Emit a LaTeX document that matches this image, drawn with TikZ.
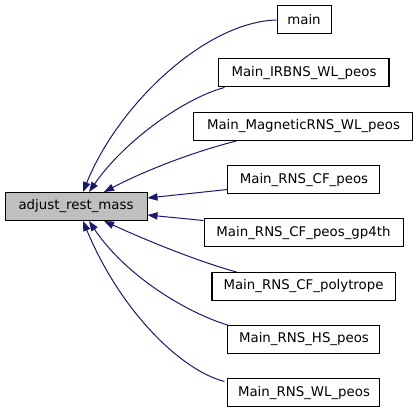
\documentclass[tikz,border=0pt]{standalone}
\usepackage{fontspec}
\setmainfont{DejaVu Sans}
\usetikzlibrary{arrows.meta,calc}
\definecolor{edgeblue}{HTML}{191970}
\definecolor{boxgray}{HTML}{BFBFBF}
\tikzset{
  fn/.style={draw=black, fill=white, line width=0.75pt, inner sep=0pt, minimum height=28*0.75pt, font=\fontsize{10pt}{12pt}\selectfont, anchor=center},
  cur/.style={fn, fill=boxgray},
  dep/.style={draw=edgeblue, line width=0.75pt, -{Triangle[length=7.5pt,width=5.5pt]}}
}
\begin{document}
\begin{tikzpicture}[x=0.75pt,y=-0.75pt]
\useasboundingbox (0,0) rectangle (419,413);
\node[cur, minimum width=142*0.75pt] (arm) at (76,206.5) {adjust\_rest\_mass};
\node[fn, minimum width=54*0.75pt] (main) at (304,20) {main};
\node[fn, minimum width=170*0.75pt] (irbns) at (304,73) {Main\_IRBNS\_WL\_peos};
\node[fn, minimum width=219*0.75pt] (mag) at (303.5,126.5) {Main\_MagneticRNS\_WL\_peos};
\node[fn, minimum width=152*0.75pt] (cfpeos) at (304,180) {Main\_RNS\_CF\_peos};
\node[fn, minimum width=199*0.75pt] (gp4th) at (303.5,233) {Main\_RNS\_CF\_peos\_gp4th};
\node[fn, minimum width=183*0.75pt] (poly) at (303.5,286.5) {Main\_RNS\_CF\_polytrope};
\node[fn, minimum width=152*0.75pt] (hs) at (304,339.5) {Main\_RNS\_HS\_peos};
\node[fn, minimum width=152*0.75pt] (wl) at (304,393) {Main\_RNS\_WL\_peos};

\draw[dep] (main.west) .. controls (205,22) and (118,105) .. ($(arm.north)+(7,0)$);
\draw[dep] ($(irbns.south west)+(6,0)$) .. controls (185,98) and (125,140) .. ($(arm.north)+(13,0)$);
\draw[dep] ($(mag.south west)+(43,0)$) .. controls (200,150) and (150,168) .. ($(arm.north)+(28,0)$);
\draw[dep] ($(cfpeos.south west)+(0,-5)$) -- ($(arm.north east)+(0,6)$);
\draw[dep] ($(gp4th.north west)+(0,2)$) -- ($(arm.south east)+(0,-6)$);
\draw[dep] ($(poly.north west)+(25,0)$) .. controls (200,262) and (150,242) .. ($(arm.south)+(28,0)$);
\draw[dep] ($(hs.north west)+(0,0)$) .. controls (185,312) and (125,275) .. ($(arm.south)+(13,0)$);
\draw[dep] ($(wl.north west)+(-3,3)$) .. controls (180,370) and (120,310) .. ($(arm.south)+(7,0)$);
\end{tikzpicture}
\end{document}
